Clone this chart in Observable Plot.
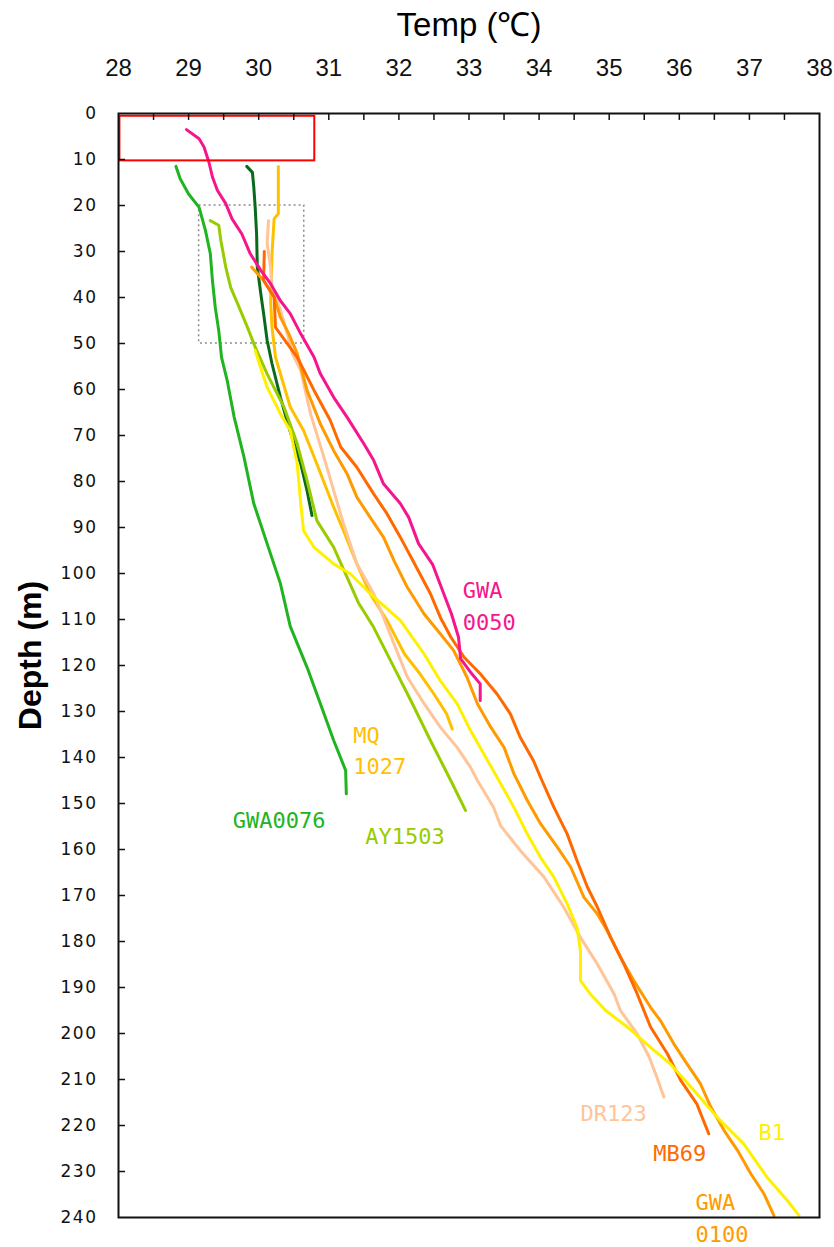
<!DOCTYPE html>
<html>
<head>
<meta charset="utf-8">
<script src="https://cdn.jsdelivr.net/npm/d3@7"></script>
<script src="https://cdn.jsdelivr.net/npm/@observablehq/plot@0.6"></script>
<style>
  html, body { margin: 0; padding: 0; background: #fff; }
  #chart svg { display: block; background: #fff; }
  g[aria-label="series-label"] text { letter-spacing: 3px; }
  g[aria-label="y-axis tick label"] text { letter-spacing: 1.5px; }
</style>
</head>
<body>
<div id="chart"></div>
<script>
// ---- Data (depth in m, temperature in °C) ----
const gwa0076Depth = [11.5, 14.2, 17.5, 20.4, 25.4, 30.5, 36.3, 42.1, 47.2, 53, 58, 66, 74.7, 84.8, 93.5, 102.2, 111.5, 120.4, 128.3, 136.3, 142.8, 147.9];
const gwa0076Temp  = [28.82, 28.88, 29.00, 29.15, 29.24, 29.31, 29.34, 29.38, 29.43, 29.47, 29.55, 29.65, 29.79, 29.93, 30.12, 30.31, 30.45, 30.69, 30.88, 31.07, 31.24, 31.25];

const darkGreenDepth = [11.5, 12.8, 16.0, 20.4, 26.2, 33.4, 39.2, 43.5, 49.3, 54.4, 61.7, 68.2, 76.2, 82.0, 87.4];
const darkGreenTemp  = [29.83, 29.91, 29.93, 29.95, 29.97, 29.98, 30.03, 30.07, 30.12, 30.19, 30.31, 30.43, 30.60, 30.69, 30.76];

const ay1503Depth = [23.3, 24.3, 27.6, 33.4, 37.8, 42.1, 46.5, 50.8, 56.6, 63.8, 71.8, 79.8, 88.5, 94.3, 100.8, 106.3, 111.7, 120.4, 127.6, 136.3, 145.0, 151.5];
const ay1503Temp  = [29.31, 29.43, 29.46, 29.53, 29.60, 29.72, 29.84, 29.95, 30.12, 30.36, 30.55, 30.69, 30.83, 31.07, 31.26, 31.42, 31.64, 31.93, 32.17, 32.45, 32.74, 32.95];

const mq1027Depth = [11.5, 21.8, 22.9, 30.5, 40.7, 46.5, 53.0, 63.8, 68.9, 76.2, 85.6, 90.7, 97.9, 104.4, 110.2, 117.5, 121.8, 126.2, 130.5, 133.8];
const mq1027Temp  = [30.28, 30.28, 30.22, 30.19, 30.17, 30.19, 30.24, 30.45, 30.64, 30.83, 31.07, 31.21, 31.40, 31.59, 31.83, 32.08, 32.30, 32.50, 32.68, 32.76];

const dr123Depth = [23.3, 28.3, 33.4, 37.8, 42.8, 47.9, 52.2, 55.9, 65.3, 74.7, 82.0, 89.2, 97.9, 104.4, 108.0, 115.3, 122.5, 128.3, 133.4, 137.8, 142.1, 145.0, 150.8, 154.8, 160.2, 166.0, 172.5, 179.1, 184.9, 191.4, 195.0, 200.1, 205.1, 209.5, 213.8];
const dr123Temp  = [30.14, 30.12, 30.17, 30.19, 30.31, 30.41, 30.48, 30.60, 30.74, 30.93, 31.07, 31.21, 31.40, 31.64, 31.74, 31.93, 32.12, 32.36, 32.59, 32.83, 33.02, 33.12, 33.35, 33.45, 33.73, 34.07, 34.35, 34.59, 34.83, 35.07, 35.16, 35.40, 35.57, 35.68, 35.78];

const gwa0100Depth = [33.4, 36.3, 39.9, 44.3, 47.9, 52.2, 60.2, 67.5, 73.3, 78.3, 83.4, 87.8, 92.1, 97.2, 103, 108.8, 113.1, 116.7, 122.5, 128.3, 133.4, 137.8, 143.5, 149.3, 154.4, 159.5, 163.8, 170.4, 174.0, 177.6, 183.4, 188.5, 194.3, 197.2, 202.2, 206.6, 210.9, 216.0, 221.1, 225.4, 230.5, 234.9, 239.6];
const gwa0100Temp  = [29.90, 30.07, 30.22, 30.31, 30.43, 30.55, 30.69, 30.88, 31.07, 31.26, 31.40, 31.59, 31.78, 31.93, 32.12, 32.36, 32.59, 32.78, 32.97, 33.12, 33.31, 33.50, 33.64, 33.83, 34.02, 34.26, 34.45, 34.64, 34.83, 34.97, 35.16, 35.35, 35.59, 35.73, 35.92, 36.11, 36.30, 36.45, 36.64, 36.83, 37.02, 37.21, 37.35];

const mb69Depth = [30, 36.3, 39.9, 46.5, 53.0, 60.2, 66.7, 72.5, 76.9, 82.7, 87.0, 92.1, 97.5, 104.4, 109.5, 113.8, 118.2, 121.8, 126.2, 130.5, 135.6, 140.7, 144.3, 150.8, 156.6, 162.4, 168.2, 172.5, 179.1, 184.9, 191.4, 198.6, 204.4, 210.2, 215.3, 221.8];
const mb69Temp  = [30.08, 30.07, 30.22, 30.24, 30.55, 30.79, 31.02, 31.17, 31.40, 31.64, 31.83, 32.02, 32.21, 32.45, 32.59, 32.74, 32.93, 33.16, 33.40, 33.59, 33.73, 33.92, 34.02, 34.21, 34.40, 34.54, 34.69, 34.83, 35.02, 35.21, 35.40, 35.59, 35.83, 36.02, 36.25, 36.42];

const b1Depth = [51.5, 53.0, 59.5, 65.3, 68.9, 76.2, 84.8, 90.7, 94.3, 97.9, 100.1, 104.4, 110.2, 117.5, 123.3, 128.3, 134.1, 139.2, 144.3, 150.8, 156.6, 161.7, 166.0, 171.8, 176.9, 182.0, 188.5, 191.4, 195.0, 198.6, 203.0, 206.6, 212.4, 218.2, 224.0, 231.2, 236.3, 239.6];
const b1Temp  = [29.95, 29.98, 30.12, 30.31, 30.45, 30.55, 30.60, 30.64, 30.79, 31.07, 31.31, 31.59, 32.02, 32.36, 32.59, 32.83, 33.02, 33.21, 33.40, 33.64, 33.83, 34.02, 34.21, 34.40, 34.54, 34.59, 34.59, 34.73, 34.95, 35.26, 35.59, 35.87, 36.21, 36.54, 36.92, 37.25, 37.54, 37.71];

const gwa0050Depth = [3.5, 5.5, 7.3, 10.6, 13.8, 16.7, 19.6, 22.9, 26.2, 30.5, 34.1, 37.0, 40.7, 43.5, 47.9, 53.0, 56.6, 61.7, 66.0, 71.8, 75.4, 80.5, 84.8, 87.8, 93.5, 98.0, 104.4, 108.8, 113.8, 118.5, 121.8, 124.0, 127.6];
const gwa0050Temp  = [28.97, 29.15, 29.22, 29.29, 29.34, 29.41, 29.53, 29.62, 29.76, 29.88, 30.03, 30.17, 30.31, 30.45, 30.60, 30.79, 30.88, 31.07, 31.26, 31.50, 31.64, 31.78, 32.02, 32.14, 32.28, 32.48, 32.64, 32.75, 32.85, 32.88, 33.04, 33.16, 33.16];

// series order = drawing order
const wellNames   = ["GWA0076", "unlabeled", "AY1503", "MQ1027", "DR123", "GWA0100", "MB69", "B1", "GWA0050"];
const wellColours = ["#21b421", "#0a6a1c", "#99cc00", "#ffc000", "#ffc497", "#ff9a00", "#ff6a00", "#fff000", "#f5168d"];
const wellDepths  = [gwa0076Depth, darkGreenDepth, ay1503Depth, mq1027Depth, dr123Depth, gwa0100Depth, mb69Depth, b1Depth, gwa0050Depth];
const wellTemps   = [gwa0076Temp, darkGreenTemp, ay1503Temp, mq1027Temp, dr123Temp, gwa0100Temp, mb69Temp, b1Temp, gwa0050Temp];

// series labels (text, anchor temperature, anchor depth)
const labelWells = ["GWA0050", "MQ1027", "GWA0076", "AY1503", "DR123", "MB69", "B1", "GWA0100"];
const labelTexts = ["GWA\n0050", "MQ\n1027", "GWA0076", "AY1503", "DR123", "MB69", "B1", "GWA\n0100"];
const labelTemps = [32.91, 31.35, 29.63, 31.52, 34.59, 35.63, 37.13, 36.23];
const labelDepths = [106.5, 138.0, 153.0, 156.5, 216.8, 225.5, 221.0, 239.6];

// highlight boxes
const redBoxT  = [28.02, 30.8];
const redBoxD  = [0.6, 10.3];
const greyBoxT = [29.15, 30.65];
const greyBoxD = [20, 50];

// ticks
const xTickLabels = [28, 29, 30, 31, 32, 33, 34, 35, 36, 37, 38];
const xTickMarks  = [28.5, 29, 29.5, 30, 30.5, 31, 31.5, 32, 32.5, 33, 33.5, 34, 34.5, 35, 35.5, 36, 36.5, 37, 37.5];
const yTickLabels = [0, 10, 20, 30, 40, 50, 60, 70, 80, 90, 100, 110, 120, 130, 140, 150, 160, 170, 180, 190, 200, 210, 220, 230, 240];
const yTickMarks  = [10, 20, 30, 40, 50, 60, 70, 80, 90, 100, 110, 120, 130, 140, 150, 160, 170, 180, 190, 200, 210, 220, 230];

// ---- build tables ----
const profile = [];
wellNames.forEach((w, i) => {
  wellDepths[i].forEach((d, j) => profile.push({well: w, depth: d, temp: wellTemps[i][j]}));
});
const labels = labelWells.map((w, i) => ({well: w, text: labelTexts[i], temp: labelTemps[i], depth: labelDepths[i]}));
const boxes = [
  {kind: "red", x1: redBoxT[0], x2: redBoxT[1], y1: redBoxD[0], y2: redBoxD[1]},
  {kind: "grey", x1: greyBoxT[0], x2: greyBoxT[1], y1: greyBoxD[0], y2: greyBoxD[1]}
];

const chart = Plot.plot({
  width: 834,
  height: 1247,
  marginLeft: 118,
  marginRight: 15,
  marginTop: 113,
  marginBottom: 30,
  style: {background: "#fff", color: "#000"},
  x: {domain: [28, 38], axis: null},
  y: {domain: [0, 240], reverse: true, axis: null},
  color: {domain: wellNames, range: wellColours},
  marks: [
    Plot.rect(boxes.filter(b => b.kind === "grey"), {x1: "x1", x2: "x2", y1: "y1", y2: "y2", fill: "none", stroke: "#8a8a8a", strokeWidth: 1.5, strokeDasharray: "2,3"}),
    Plot.line(profile, {x: "temp", y: "depth", z: "well", stroke: "well", strokeWidth: 3, curve: "linear"}),
    Plot.rect(boxes.filter(b => b.kind === "red"), {x1: "x1", x2: "x2", y1: "y1", y2: "y2", fill: "none", stroke: "#ff0000", strokeWidth: 2}),
    // inward tick marks on the top and left edges
    Plot.ruleX(xTickMarks, {x: d => d, y1: 0, y2: 1.5, stroke: "#111", strokeWidth: 1.5}),
    Plot.ruleY(yTickMarks, {y: d => d, x1: 28, x2: 28.1, stroke: "#111", strokeWidth: 1.5}),
    Plot.frame({stroke: "#111", strokeWidth: 2}),
    Plot.axisX(xTickLabels, {anchor: "top", tickSize: 0, tickPadding: 38, fontSize: 24, fontFamily: "'Liberation Sans Narrow', 'Liberation Sans', sans-serif", fill: "#111", label: null}),
    Plot.axisY(yTickLabels, {anchor: "left", tickSize: 0, tickPadding: 21, fontSize: 17, fontFamily: "'DejaVu Sans', sans-serif", fill: "#111", label: null}),
    Plot.text(["Temp (℃)"], {text: d => d, frameAnchor: "top", lineAnchor: "middle", textAnchor: "middle", dy: -88, fontSize: 33, fontFamily: "'Liberation Sans', sans-serif", fill: "#000"}),
    Plot.text(["Depth (m)"], {text: d => d, frameAnchor: "left", lineAnchor: "middle", textAnchor: "middle", dx: -88, dy: -10, rotate: -90, fontSize: 32, fontWeight: "bold", fontFamily: "'Liberation Sans', sans-serif", fill: "#000"}),
    Plot.text(labels, {x: "temp", y: "depth", text: "text", fill: "well", textAnchor: "start", lineAnchor: "middle", lineHeight: 1.45, fontSize: 22, fontFamily: "'DejaVu Sans Mono', monospace", ariaLabel: "series-label", clip: false})
  ]
});
document.getElementById("chart").appendChild(chart);
</script>
</body>
</html>
